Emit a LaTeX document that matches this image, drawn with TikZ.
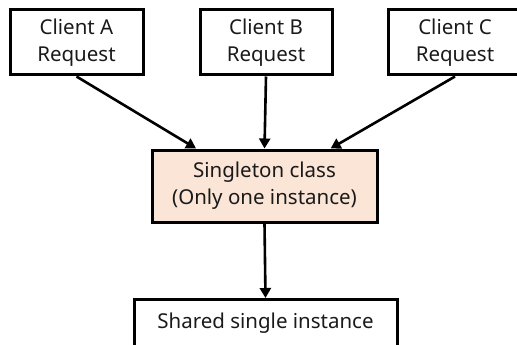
\documentclass[tikz,border=0pt]{standalone}
\usepackage{fontspec}
\setmainfont{Noto Sans}
\usetikzlibrary{arrows.meta,calc}
\definecolor{peach}{HTML}{FBE5D6}
\definecolor{ink}{HTML}{1A1A1A}
\begin{document}
\begin{tikzpicture}[x=1pt,y=-1pt,
  box/.style={draw=black,line width=3pt,rectangle,inner sep=0pt,align=center,
    text=ink,font=\fontsize{20.5}{27}\selectfont},
  flow/.style={line width=2.6pt,-{Triangle[length=10pt,width=11pt]}}]
\useasboundingbox (0,0) rectangle (517,345);
\clip (0,0) rectangle (517,345);
% client boxes
\node[box,minimum width=133pt,minimum height=65pt] (ca) at (76.5,42.5) {Client A\\Request};
\node[box,minimum width=132pt,minimum height=65pt] (cb) at (266,42.5) {Client B\\Request};
\node[box,minimum width=134pt,minimum height=65pt] (cc) at (455,42.5) {Client C\\Request};
% singleton
\node[box,fill=peach,minimum width=225pt,minimum height=72pt] (sg) at (264.5,186) {Singleton class\\(Only one instance)};
% shared instance
\node[box,minimum width=263pt,minimum height=48pt,anchor=north] (sh) at (265.5,298) {Shared single instance};
% connectors
\draw[flow] (ca.south) -- ($(sg.north)!0.6!(sg.north west)$);
\draw[flow] (cb.south) -- (sg.north);
\draw[flow] (cc.south) -- ($(sg.north)!0.58!(sg.north east)$);
\draw[flow] (sg.south) -- (sh.north);
\end{tikzpicture}
\end{document}
